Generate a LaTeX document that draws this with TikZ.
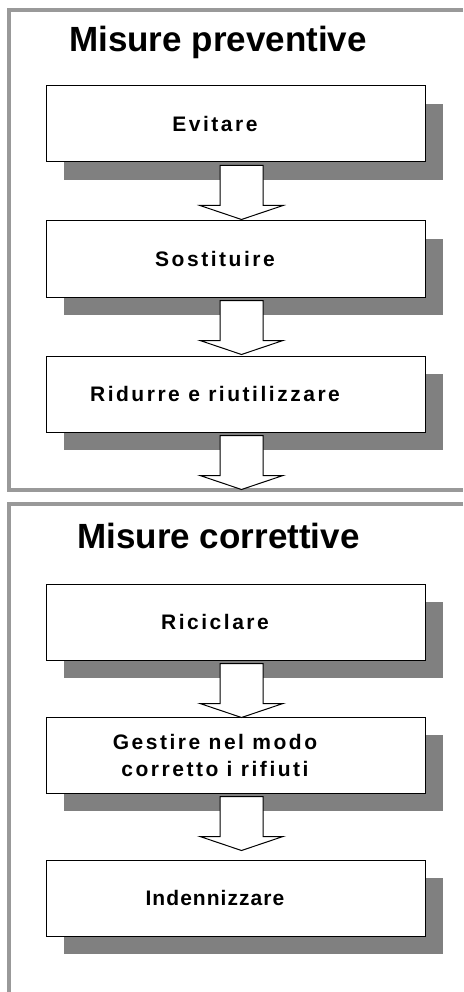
\documentclass[tikz,border=0pt]{standalone}
\usepackage{fontspec}
\setmainfont{Liberation Sans}
\newfontfamily\stepfont{Liberation Sans Bold}[LetterSpace=12]
\newfontfamily\steptightfont{Liberation Sans Bold}[LetterSpace=5]
\usetikzlibrary{positioning, calc, shadows}

\definecolor{framegray}{HTML}{999999}
\definecolor{shadowgray}{HTML}{808080}

\tikzset{
    frameline/.style = {draw=framegray, line width=3.5pt},
    stepbox/.style = {draw=black, line width=1pt, fill=white, minimum width=379pt, minimum height=76pt,
        drop shadow={shadow xshift=18pt, shadow yshift=-18pt, fill=shadowgray, opacity=1}},
    steptext/.style = {font=\fontsize{21}{27}\selectfont\stepfont, align=center},
    titletext/.style = {font=\fontsize{35}{40}\selectfont\bfseries, anchor=base},
    blockarrow/.style = {draw=black, line width=1pt, fill=white, line join=miter}
}

\begin{document}
\begin{tikzpicture}[x=1pt, y=-1pt]
    \useasboundingbox (0, 0) rectangle (463, 992);

    % the two frames
    \draw[frameline] (463, 10) -- (9, 10) -- (9, 490) -- (463, 490);
    \draw[frameline] (463, 504) -- (9, 504) -- (9, 992);

    \node[titletext] (prev) at (218, 52) {Misure preventive};
    \node[titletext] (corr) at (218.5, 548) {Misure correttive};

    % preventive steps
    \node[stepbox] (b1) at (235.5, 124) {};
    \node[stepbox, below=58pt of b1] (b2) {};
    \node[stepbox, below=58pt of b2] (b3) {};
    % corrective steps
    \node[stepbox] (b4) at (235.5, 622) {};
    \node[stepbox, below=56pt of b4] (b5) {};
    \node[stepbox, below=66pt of b5] (b6) {};

    \node[steptext] (t1) at ([xshift=-20.5pt]b1.center) {Evitare};
    \node[steptext] (t2) at ([xshift=-20.5pt]b2.center) {Sostituire};
    \node[steptext] (t3) at ([xshift=-20.5pt]b3.center) {Ridurre e riutilizzare};
    \node[steptext] (t4) at ([xshift=-20.5pt]b4.center) {Riciclare};
    \node[steptext] (t5) at ([xshift=-20.5pt]b5.center) {Gestire nel modo\\corretto i rifiuti};
    \node[steptext] (t6) at ([xshift=-20.5pt]b6.center) {\steptightfont Indennizzare};

    \foreach \src in {b1, b2, b3, b4, b5}
        \draw[blockarrow] ($(\src.south)+(-15.5, 3)$) -- ($(\src.south)+(-15.5, 43)$)
            -- ($(\src.south)+(-35.5, 43)$) -- ($(\src.south)+(6, 57)$)
            -- ($(\src.south)+(47.5, 43)$) -- ($(\src.south)+(27.5, 43)$)
            -- ($(\src.south)+(27.5, 3)$) -- cycle;

\end{tikzpicture}
\end{document}
